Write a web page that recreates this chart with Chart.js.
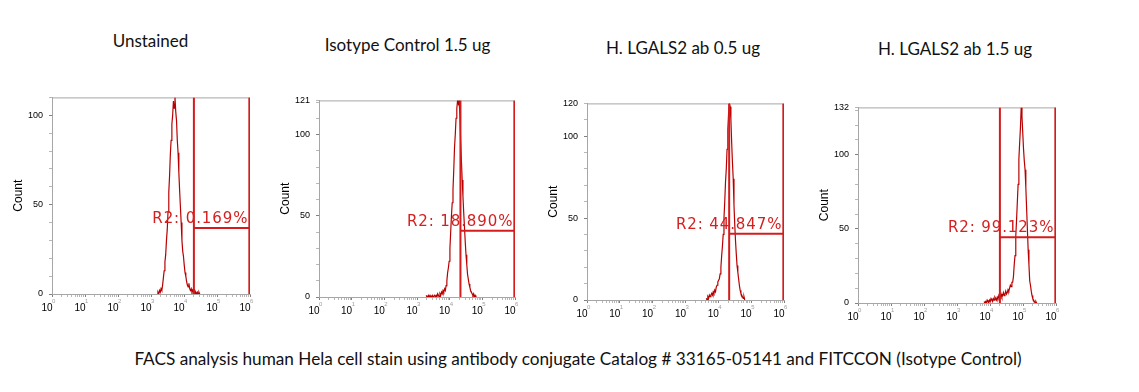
<!DOCTYPE html>
<html><head><meta charset="utf-8">
<script src="https://cdn.jsdelivr.net/npm/chart.js@4.4.0/dist/chart.umd.min.js"></script>
<style>
html,body{margin:0;padding:0;background:#fff;}
#wrap{position:relative;width:1139px;height:392px;overflow:hidden;background:#fff;}
.t{position:absolute;transform:translate(-50%,-50%);white-space:nowrap;font-family:Lato,"Open Sans",sans-serif;font-size:17px;color:#111;}
.cap{font-size:17.2px;}
canvas{position:absolute;}
</style></head><body><div id="wrap"></div>
<script>
// ---------------- DATA ----------------
// 256-channel log histograms spanning 6 decades (10^0 .. 10^6)
const CHANNELS = 256, DECADES = 6;
const panelTitles = ['Unstained', 'Isotype Control 1.5 ug', 'H. LGALS2 ab 0.5 ug', 'H. LGALS2 ab 1.5 ug'];
const caption = 'FACS analysis human Hela cell stain using antibody conjugate Catalog # 33165-05141 and FITCCON (Isotype Control)';

const unstainedStart = 136;
const unstainedCounts = [0,1,0,2,1,3,2,5,9,13, 18,22,30,36,46,57,66,78,86,95, 100,108,104,110,102,97,86,79,68,58,
  49,40,30,24,21,16,12,10,7,5, 4,6,3,2,3,1,2,1,2,0, 1,0,1,0,1,0];

const isotypeStart = 140;
const isotypeCounts = [1,0,0,1,0,1,0,0,1,0, 0,1,0,1,0,2,1,0,2,1, 3,2,4,3,5,4,7,10,15,18,
  22,30,40,50,58,66,78,92,100,110, 116,121,119,121,112,96,84,72,62,52, 43,34,26,20,14,11,8,6,4,3, 2,1,2,0,1,0];

const lgals05Start = 155;
const lgals05Counts = [1,0,2,1,3,2,3,4,3,5, 4,6,5,8,9,11,12,13,16,20, 27,33,40,50,60,72,80,92,104,114,
  120,118,110,96,84,74,58,46,36,28, 21,17,13,9,6,4,3,2,1,2, 0];

const lgals15Start = 163;
const lgals15Counts = [1,0,1,0,2,1,0,2,1,3, 2,1,3,2,4,3,2,4,3,5, 3,4,6,4,5,7,5,6,8,6,
  7,9,8,10,12,11,14,14,18,26, 32,45,56,68,80,97,108,118,132,126, 115,104,96,90,78,64,50,36,26,15, 12,8,5,3,2,1,0,1,0];

const yMax = [110, 121, 120, 132];
const showTopLabel = [false, true, true, true];
const gateLeft = [4.30, 4.33, 4.33, 4.30];   // log10 of gate start
const gateRight = [5.98, 5.98, 5.98, 5.98];
const gateLevel = [36.9, 40.8, 40.4, 44.4];
const gateText = ['R2: 0.169%', 'R2: 18.890%', 'R2: 44.847%', 'R2: 99.123%'];

// ---------------- LAYOUT ----------------
const areas = [ // chart area left, top, right, bottom
  [52, 96, 250, 294],
  [319, 99, 515, 297],
  [587, 102, 784, 300],
  [858, 106, 1056, 303]
];
const titlePos = [[150.5, 40], [407.5, 44], [683, 47], [955, 48]];
const captionPos = [578, 358];

const wrap = document.getElementById('wrap');
panelTitles.forEach((t, i) => {
  const d = document.createElement('div'); d.className = 't'; d.textContent = t;
  d.style.left = titlePos[i][0] + 'px'; d.style.top = titlePos[i][1] + 'px';
  wrap.appendChild(d);
});
const cap = document.createElement('div'); cap.className = 't cap'; cap.textContent = caption;
cap.style.left = captionPos[0] + 'px'; cap.style.top = captionPos[1] + 'px';
wrap.appendChild(cap);

function toPoints(start, counts) {
  return counts.map((c, i) => ({ x: (start + i) * DECADES / CHANNELS, y: c }));
}
const histos = [
  toPoints(unstainedStart, unstainedCounts),
  toPoints(isotypeStart, isotypeCounts),
  toPoints(lgals05Start, lgals05Counts),
  toPoints(lgals15Start, lgals15Counts)
];

const GATE = '#d41c1c', HIST = '#b80000', AXIS = '#a6a6a6';
const YW = 52, PADT = 10, PADR = 10, XH = 30;

const facsPlugin = {
  id: 'facs',
  beforeDatasetsDraw(chart) {
    const { ctx, chartArea: a } = chart;
    ctx.save();
    ctx.strokeStyle = AXIS; ctx.lineWidth = 1;
    ctx.beginPath();
    ctx.moveTo(a.left, a.top + 0.5); ctx.lineTo(a.right, a.top + 0.5);
    ctx.moveTo(a.right - 0.5, a.top); ctx.lineTo(a.right - 0.5, a.bottom);
    ctx.stroke();
    ctx.restore();
  },
  afterDatasetsDraw(chart, args, opts) {
    const { ctx, scales: { x, y } } = chart;
    const i = opts.idx;
    ctx.save();
    ctx.font = '15px "DejaVu Sans"';
    ctx.letterSpacing = '0.9px';
    ctx.fillStyle = '#d42020';
    ctx.textAlign = 'right'; ctx.textBaseline = 'alphabetic';
    ctx.fillText(gateText[i], x.getPixelForValue(gateRight[i]) - 1, y.getPixelForValue(gateLevel[i]) - 5);
    ctx.restore();
  },
  afterDraw(chart) {
    const { ctx, chartArea: a, scales: { x } } = chart;
    ctx.save();
    for (let d = 0; d <= DECADES; d++) {
      const px = x.getPixelForValue(d);
      ctx.font = '10px "Liberation Sans"'; ctx.fillStyle = '#000';
      ctx.textAlign = 'right'; ctx.textBaseline = 'middle';
      ctx.fillText('10', px + 0.5, a.bottom + 14);
      ctx.font = '6px "Liberation Sans"'; ctx.fillStyle = '#a0a0a0';
      ctx.textAlign = 'left';
      ctx.fillText(String(d), px, a.bottom + 7);
    }
    ctx.restore();
  }
};

areas.forEach((ar, i) => {
  const [L, T, R, B] = ar;
  const w = (R - L) + YW + PADR, h = (B - T) + PADT + XH;
  const cv = document.createElement('canvas');
  cv.width = w; cv.height = h;
  cv.style.left = (L - YW) + 'px'; cv.style.top = (T - PADT) + 'px';
  cv.style.width = w + 'px'; cv.style.height = h + 'px';
  wrap.appendChild(cv);
  const M = yMax[i];
  new Chart(cv.getContext('2d'), {
    type: 'line',
    data: {
      datasets: [
        { data: [{ x: gateLeft[i], y: 0 }, { x: gateLeft[i], y: M }], borderColor: GATE, borderWidth: 2, order: 0 },
        { data: [{ x: gateRight[i], y: 0 }, { x: gateRight[i], y: M }], borderColor: GATE, borderWidth: 2, order: 0 },
        { data: [{ x: gateLeft[i], y: gateLevel[i] }, { x: gateRight[i], y: gateLevel[i] }], borderColor: GATE, borderWidth: 2, order: 0 },
        { data: histos[i], borderColor: HIST, borderWidth: 1.2, order: 1 }
      ]
    },
    options: {
      responsive: false, animation: false, devicePixelRatio: 1,
      layout: { padding: { top: PADT, right: PADR, left: 0, bottom: 0 } },
      elements: { point: { radius: 0 }, line: { tension: 0, fill: false } },
      plugins: { legend: { display: false }, tooltip: { enabled: false }, facs: { idx: i } },
      scales: {
        x: {
          type: 'linear', min: 0, max: DECADES,
          afterBuildTicks: s => {
            const t = [];
            for (let d = 0; d <= DECADES; d++) {
              t.push({ value: d });
              if (d < DECADES) for (let k = 2; k <= 9; k++) t.push({ value: d + Math.log10(k) });
            }
            s.ticks = t;
          },
          afterFit: s => { s.height = XH; },
          ticks: { display: false },
          grid: { drawOnChartArea: false, drawTicks: true, tickLength: 3,
            tickColor: c => Number.isInteger(c.tick && c.tick.value) ? '#808080' : '#b8b8b8' },
          border: { display: true, color: AXIS, width: 1 }
        },
        y: {
          type: 'linear', min: 0, max: M,
          afterBuildTicks: s => {
            const t = [];
            for (let v = 0; v <= M; v += 10) t.push({ value: v });
            if (M % 10) t.push({ value: M });
            s.ticks = t;
          },
          afterFit: s => { s.width = YW; },
          ticks: {
            autoSkip: false, padding: 6, color: '#000',
            font: { family: 'Liberation Sans', size: 9 },
            callback: v => (v === 0 || v === 50 || v === 100 || (v === M && showTopLabel[i])) ? String(v) : ''
          },
          title: { display: true, text: 'Count', color: '#000', font: { family: 'Liberation Sans', size: 12 }, padding: { top: 11, bottom: 0 } },
          grid: { drawOnChartArea: false, drawTicks: true, tickLength: 3,
            tickColor: c => (c.tick && c.tick.value % 50 === 0) ? '#808080' : '#b8b8b8' },
          border: { display: true, color: AXIS, width: 1 }
        }
      }
    },
    plugins: [facsPlugin]
  });
});
</script></body></html>
